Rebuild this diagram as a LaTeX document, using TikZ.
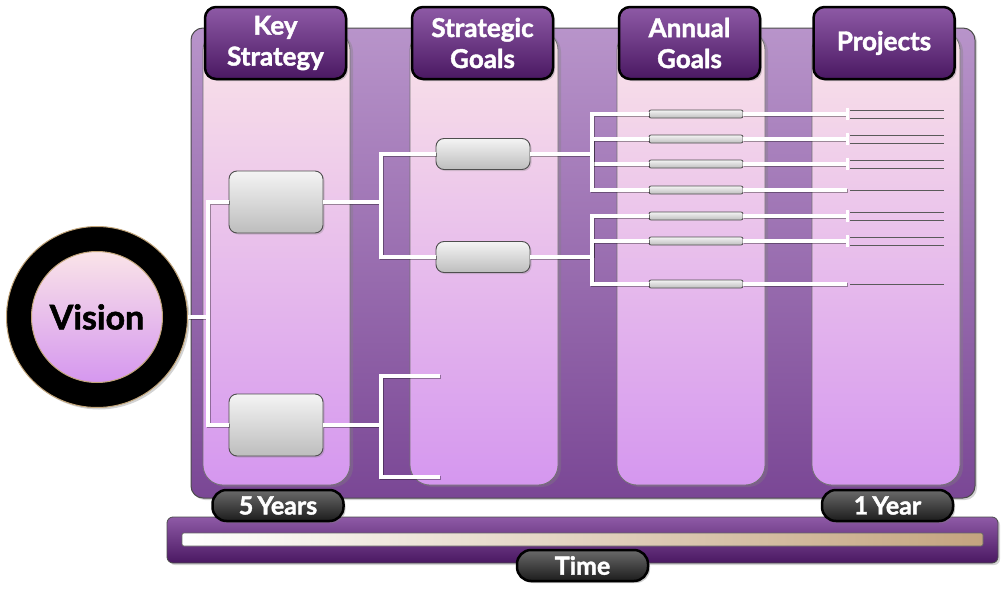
\documentclass[tikz,border=0pt]{standalone}
\usepackage{fontspec}
\setmainfont{Lato}
\newfontfamily\heavyfont[BoldFeatures={FakeBold=1.6}]{Lato}
\usetikzlibrary{shadows,calc}
\definecolor{panelTop}{HTML}{B894CA}
\definecolor{panelBot}{HTML}{7A4795}
\definecolor{colTop}{HTML}{FAE4E8}
\definecolor{colBot}{HTML}{D597EF}
\definecolor{headTop}{HTML}{8E5AA6}
\definecolor{headBot}{HTML}{4A1862}
\definecolor{pillTop}{HTML}{6A6A6A}
\definecolor{pillBot}{HTML}{1C1C1C}
\definecolor{boxTop}{HTML}{F4F4F4}
\definecolor{boxBot}{HTML}{BDBDBD}
\definecolor{boxEdge}{HTML}{4E4E4E}
\definecolor{tan}{HTML}{C4A47F}
\definecolor{ringEdge}{HTML}{C2A57A}
\definecolor{projGray}{HTML}{5A5A5A}
\tikzset{
  panelbox/.style={rounded corners=12pt, draw=black!70, line width=1pt,
    top color=panelTop, bottom color=panelBot,
    drop shadow={opacity=0.35, shadow xshift=2pt, shadow yshift=-2pt}},
  colbox/.style={rounded corners=20pt, draw=black!55, line width=0.8pt,
    top color=colTop, bottom color=colBot,
    drop shadow={opacity=0.35, shadow xshift=3pt, shadow yshift=-2pt}},
  headbox/.style={rectangle, rounded corners=11pt, draw=black, line width=2.5pt,
    top color=headTop, bottom color=headBot, text=white, align=center,
    minimum width=141pt, minimum height=72pt, inner sep=0pt,
    font=\fontsize{26}{31}\selectfont\heavyfont\bfseries,
    drop shadow={opacity=0.4, shadow xshift=2pt, shadow yshift=-2pt}},
  pillbox/.style={rectangle, rounded corners=14pt, draw=black, line width=2.5pt,
    top color=pillTop, bottom color=pillBot, text=white,
    minimum width=131pt, minimum height=31pt, inner sep=0pt,
    font=\fontsize{25}{26}\selectfont\heavyfont\bfseries,
    drop shadow={opacity=0.4, shadow xshift=2pt, shadow yshift=-2pt}},
  graybox/.style={rectangle, rounded corners=8pt, draw=boxEdge, line width=0.9pt,
    top color=boxTop, bottom color=boxBot, minimum width=94pt, inner sep=0pt,
    drop shadow={opacity=0.3, shadow xshift=1.5pt, shadow yshift=-1.5pt}},
  barbox/.style={rectangle, rounded corners=2pt, draw=boxEdge, line width=0.8pt,
    top color=boxTop, bottom color=boxBot, minimum width=94pt, minimum height=8pt,
    inner sep=0pt},
  wire/.style={draw=white, line width=3.2pt,
    preaction={draw=black, draw opacity=0.35, line width=3.2pt,
      transform canvas={shift={(1pt,-1pt)}}}},
  tickwire/.style={draw=white, line width=3pt},
  projline/.style={draw=projGray, line width=1pt},
}
\begin{document}
\begin{tikzpicture}[x=1pt,y=-1pt]
\useasboundingbox (0,0) rectangle (1004,605);
% background panel
\path[panelbox] (191,28) rectangle (975,498);
% columns
\path[colbox] (203,30) rectangle (350,485);
\path[colbox] (410,30) rectangle (558,485);
\path[colbox] (617,30) rectangle (765,485);
\path[colbox] (812,30) rectangle (960,485);
% headers
\node[headbox] (hks) at (275.5,43) {Key\\Strategy};
\node[headbox] (hsg) at (482.5,43) {Strategic\\Goals};
\node[headbox] (hag) at (689.5,43) {Annual\\Goals};
\node[headbox] (hpr) at (884,43) {Projects};
% time bar
\path[rounded corners=6pt, draw=black!70, line width=0.8pt,
  top color=headTop, bottom color=headBot,
  drop shadow={opacity=0.35, shadow xshift=2pt, shadow yshift=-2pt}]
  (167,517) rectangle (998,563);
\path[rounded corners=2pt, draw=black!60, line width=0.7pt, left color=white, right color=tan]
  (182,533) rectangle (983,546);
% vision
\node[circle, fill=black, draw=ringEdge, line width=1pt, minimum size=181pt,
  drop shadow={opacity=0.35, shadow xshift=2pt, shadow yshift=-2pt}] (ring) at (97,317) {};
\node[circle, draw=ringEdge, line width=1pt, minimum size=131pt, inner sep=0pt,
  top color=colTop, bottom color=colBot,
  font=\fontsize{34}{38}\selectfont\heavyfont\bfseries]
  (vision) at (97,317) {Vision};
% boxes
\node[graybox, minimum height=62pt] (ks1) at (276,202) {};
\node[graybox, minimum height=62pt] (ks2) at (276,425) {};
\node[graybox, minimum height=31pt] (sg1) at (483,154) {};
\node[graybox, minimum height=31pt] (sg2) at (483,257) {};
% junctions
\coordinate (j0) at (208,317);
\coordinate (j1) at (381,202);
\coordinate (j2) at (381,425);
\coordinate (f1) at (440,376);
\coordinate (f2) at (440,477);
\coordinate (j3) at (592,154);
\coordinate (j4) at (592,257);
\foreach \i/\y in {1/114,2/139,3/164,4/190,5/216,6/241,7/284}{
  \coordinate (p\i) at (847,\y);
}
% wires
\draw[wire] (ring.east) -- (j0);
\draw[wire] (ks1.west) -| (j0) |- (ks2.west);
\draw[wire] (ks1.east) -- (j1);
\draw[wire] (sg1.west) -| (j1) |- (sg2.west);
\draw[wire] (ks2.east) -- (j2);
\draw[wire] (f1) -| (j2) |- (f2);
\draw[wire] (sg1.east) -- (j3);
\draw[wire] (sg2.east) -- (j4);
% annual bars
\foreach \i/\y in {1/114,2/139,3/164,4/190,5/216,6/241,7/284}{
  \node[barbox] (ag\i) at (696,\y) {};
}
\foreach \i in {1,2,3,4}{
  \draw[wire] (j3) |- (ag\i.west);
  \draw[wire] (ag\i.east) -- (p\i);
}
\foreach \i in {5,6,7}{
  \draw[wire] (j4) |- (ag\i.west);
  \draw[wire] (ag\i.east) -- (p\i);
}
% project lines
\foreach \i in {1,2,3,5,6}{
  \draw[tickwire] (p\i) ++(0,-6) -- ++(0,12);
  \draw[projline] (p\i) ++(3,-4) -- ++(94,0);
  \draw[projline] (p\i) ++(3,4) -- ++(94,0);
}
\foreach \i in {4,7}{
  \draw[projline] (p\i) ++(3,0) -- ++(94,0);
}
% pills
\node[pillbox] (five) at (278,505.5) {5\,Years};
\node[pillbox] (one) at (887.5,505.5) {1\,Year};
\node[pillbox] (time) at (582.5,565.5) {Time};
\end{tikzpicture}
\end{document}
